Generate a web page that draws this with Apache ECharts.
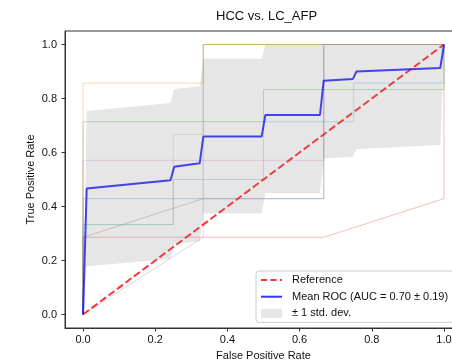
<!DOCTYPE html>
<html>
<head>
<meta charset="utf-8">
<script src="https://cdn.jsdelivr.net/npm/echarts@6/dist/echarts.min.js"></script>
<style>html,body{margin:0;padding:0;background:#fff;}#c{width:452px;height:363px;}</style>
</head>
<body>
<div id="c"></div>
<script>
// ---- data ----
const titleText = 'HCC vs. LC_AFP';
const xTicks = [0, 0.2, 0.4, 0.6, 0.8, 1.0];
const yTicks = [0, 0.2, 0.4, 0.6, 0.8, 1.0];

// individual folds (faint)
const foldColors = ['#1f77b4', '#ff7f0e', '#2ca02c', '#d62728', '#9467bd', '#8c564b', '#e377c2', '#bcbd22', '#17becf'];
const foldFpr = [
  [0, 0, 0.667, 0.667, 1],
  [0, 0, 0.333, 0.333, 1],
  [0, 0, 0.5, 0.5, 1, 1],
  [0, 0, 0.667, 1, 1],
  [0, 0.333, 0.333, 0.667, 0.667, 1],
  [0, 0, 0.333, 0.333, 1],
  [0, 0, 0.667, 0.667, 1],
  [0, 0, 0.25, 0.25, 0.333, 0.333, 1],
  [0, 0, 0.25, 0.25, 0.5, 0.5, 0.75, 0.75, 1, 1]
];
const foldTpr = [
  [0, 0.429, 0.429, 1, 1],
  [0, 0.857, 0.857, 1, 1],
  [0, 0.714, 0.714, 0.833, 0.833, 1],
  [0, 0.286, 0.286, 0.429, 1],
  [0, 0.286, 0.429, 0.429, 1, 1],
  [0, 0.286, 0.429, 1, 1],
  [0, 0.571, 0.571, 1, 1],
  [0, 0.333, 0.333, 0.667, 0.667, 1, 1],
  [0, 0.333, 0.333, 0.5, 0.5, 0.714, 0.714, 0.857, 0.857, 1]
];

// mean ROC and std band
const meanFpr = [0, 0.0101, 0.2424, 0.2525, 0.3232, 0.3333, 0.4949, 0.5051, 0.6566, 0.6667, 0.7475, 0.7576, 0.9899, 1.0];
const meanTpr = [0, 0.467, 0.497, 0.547, 0.560, 0.659, 0.659, 0.739, 0.739, 0.866, 0.872, 0.900, 0.913, 1.0];
const upperTpr = [0, 0.754, 0.783, 0.835, 0.845, 0.947, 0.947, 1, 1, 1, 1, 1, 1, 1];
const lowerTpr = [0, 0.179, 0.206, 0.259, 0.272, 0.374, 0.374, 0.450, 0.450, 0.578, 0.584, 0.613, 0.628, 1.0];

const refX = [0, 1];
const refY = [0, 1];

const refName = 'Reference';
const meanName = 'Mean ROC (AUC = 0.70 \u00b1 0.19)';
const bandName = '\u00b1 1 std. dev.';

// ---- chart ----
const chart = echarts.init(document.getElementById('c'), null, {renderer: 'canvas'});
const zip = (a, b) => a.map((v, i) => [v, b[i]]);

const series = [];
foldFpr.forEach((fx, i) => {
  series.push({
    type: 'line', name: 'fold' + i, data: zip(fx, foldTpr[i]),
    symbol: 'none', silent: true, z: 1,
    lineStyle: {color: foldColors[i], width: 1, opacity: 0.3}
  });
});
series.push({
  type: 'line', name: refName, data: zip(refX, refY), symbol: 'none', z: 3,
  itemStyle: {color: 'rgba(255,0,0,0.8)'},
  lineStyle: {color: 'rgba(255,0,0,0.8)', width: 2, type: [7.4, 3.2]}
});
series.push({
  type: 'line', name: meanName, data: zip(meanFpr, meanTpr), symbol: 'none', z: 4,
  itemStyle: {color: 'rgba(0,0,255,0.8)'},
  lineStyle: {color: 'rgba(0,0,255,0.8)', width: 2}
});
series.push({
  type: 'custom', name: bandName, coordinateSystem: 'cartesian2d', z: 5,
  itemStyle: {color: 'rgba(128,128,128,0.2)'},
  data: [[0, 0]],
  renderItem: function (params, api) {
    const pts = [];
    for (let i = 0; i < meanFpr.length; i++) pts.push(api.coord([meanFpr[i], upperTpr[i]]));
    for (let i = meanFpr.length - 1; i >= 0; i--) pts.push(api.coord([meanFpr[i], lowerTpr[i]]));
    return {type: 'polygon', shape: {points: pts}, style: {fill: 'rgba(128,128,128,0.2)', stroke: 'none'}};
  }
});

const axisCommon = {
  type: 'value', min: -0.05, max: 1.05,
  splitLine: {show: false},
  axisLine: {show: true, onZero: false, lineStyle: {color: '#333', width: 1}},
  nameLocation: 'middle',
  nameMoveOverlap: false,
  nameTextStyle: {fontSize: 11, color: '#111'}
};

chart.setOption({
  animation: false,
  backgroundColor: '#fff',
  textStyle: {fontFamily: 'Liberation Sans, Arial, sans-serif'},
  title: {
    text: titleText, left: 216, top: 10, padding: 0,
    textStyle: {fontSize: 13, fontWeight: 'normal', color: '#111', fontFamily: 'Liberation Sans, Arial, sans-serif'}
  },
  grid: {left: 65, top: 31, width: 397, height: 297, show: true, borderColor: '#333', borderWidth: 1,
         backgroundColor: 'transparent', containLabel: false, outerBoundsMode: 'none'},
  xAxis: Object.assign({}, axisCommon, {
    name: 'False Positive Rate', nameGap: 22,
    axisTick: {show: true, length: 3.5, customValues: xTicks, lineStyle: {color: '#333'}},
    axisLabel: {customValues: xTicks, formatter: v => v.toFixed(1), fontSize: 11, color: '#111', margin: 6}
  }),
  yAxis: Object.assign({}, axisCommon, {
    name: 'True Positive Rate', nameGap: 29,
    axisTick: {show: true, length: 3.5, customValues: yTicks, lineStyle: {color: '#333'}},
    axisLabel: {customValues: yTicks, formatter: v => v.toFixed(1), fontSize: 11, color: '#111', margin: 8}
  }),
  legend: {
    orient: 'vertical', left: 256, top: 271,
    padding: [3, 6, 3, 4], itemGap: 4.7, itemWidth: 21, itemHeight: 9,
    backgroundColor: '#fff', borderColor: '#ccc', borderWidth: 1, borderRadius: 3,
    textStyle: {fontSize: 11, color: '#111', lineHeight: 12, padding: [0, 0, 0, 5]},
    data: [
      {name: refName, itemStyle: {opacity: 0}, lineStyle: {color: 'rgba(255,0,0,0.8)', width: 2, type: [6, 3.5]}},
      {name: meanName, itemStyle: {opacity: 0}, lineStyle: {color: 'rgba(0,0,255,0.8)', width: 2, type: 'solid'}},
      {name: bandName, icon: 'rect', itemStyle: {color: 'rgba(128,128,128,0.2)'}}
    ],
    selectedMode: false
  },
  series: series
});
</script>
</body>
</html>
